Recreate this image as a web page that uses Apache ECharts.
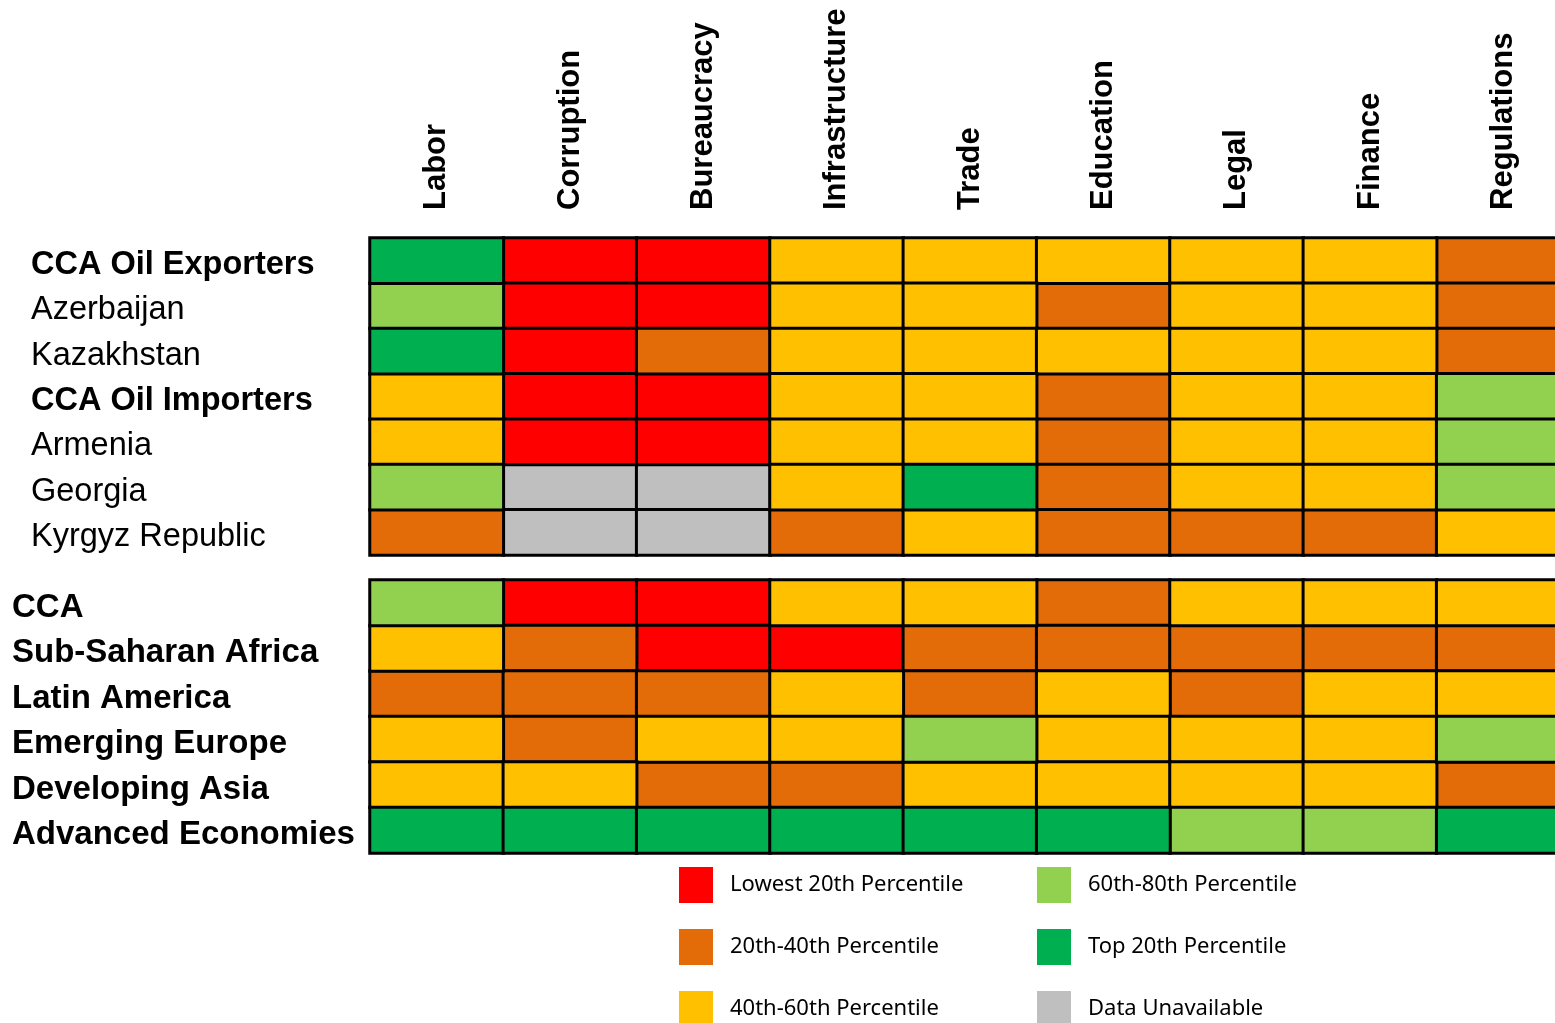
<!DOCTYPE html>
<html>
<head>
<meta charset="utf-8">
<script src="https://cdn.jsdelivr.net/npm/echarts@6/dist/echarts.min.js"></script>
<style>
  html, body { margin: 0; padding: 0; background: #fff; }
  #main { width: 1555px; height: 1023px; }
</style>
</head>
<body>
<div id="main"></div>
<script>
// columns of the table
const columns = ['Labor', 'Corruption', 'Bureaucracy', 'Infrastructure', 'Trade', 'Education', 'Legal', 'Finance', 'Regulations']

// 0 = no data, 1 = lowest 20th ... 5 = top 20th
const levels = ['Data Unavailable', 'Lowest 20th Percentile', '20th-40th Percentile', '40th-60th Percentile', '60th-80th Percentile', 'Top 20th Percentile']
const levelColors = ['#BFBFBF', '#FF0000', '#E36C09', '#FFC000', '#92D050', '#00B050']

// upper block: CCA countries
const rowsTop = ['CCA Oil Exporters', 'Azerbaijan', 'Kazakhstan', 'CCA Oil Importers', 'Armenia', 'Georgia', 'Kyrgyz Republic']
const boldRows = ['CCA Oil Exporters', 'CCA Oil Importers']
const ratingsTop = [
  [5, 1, 1, 3, 3, 3, 3, 3, 2],
  [4, 1, 1, 3, 3, 2, 3, 3, 2],
  [5, 1, 2, 3, 3, 3, 3, 3, 2],
  [3, 1, 1, 3, 3, 2, 3, 3, 4],
  [3, 1, 1, 3, 3, 2, 3, 3, 4],
  [4, 0, 0, 3, 5, 2, 3, 3, 4],
  [2, 0, 0, 2, 3, 2, 2, 2, 3]
]

// lower block: regions
const rowsBottom = ['CCA', 'Sub-Saharan Africa', 'Latin America', 'Emerging Europe', 'Developing Asia', 'Advanced Economies']
const ratingsBottom = [
  [4, 1, 1, 3, 3, 2, 3, 3, 3],
  [3, 2, 1, 1, 2, 2, 2, 2, 2],
  [2, 2, 2, 3, 2, 3, 2, 3, 3],
  [3, 2, 3, 3, 4, 3, 3, 3, 4],
  [3, 3, 2, 2, 3, 3, 3, 3, 2],
  [5, 5, 5, 5, 5, 5, 4, 4, 5]
]

const chart = echarts.init(document.getElementById('main'))

const labelFont = 'Liberation Sans, Arial, sans-serif'
const legendFont = 'Noto Sans, sans-serif'

// split the ratings into one heatmap series per level so the legend works
function buildSeries(ratings, gridIdx) {
  return levels.map((name, k) => {
    const data = []
    ratings.forEach((row, r) => {
      row.forEach((v, c) => {
        if (v === k) data.push([c, r, v])
      })
    })
    return {
      type: 'heatmap',
      name: name,
      xAxisIndex: gridIdx,
      yAxisIndex: gridIdx,
      data: data,
      itemStyle: {
        color: levelColors[k],
        borderColor: '#000',
        borderWidth: 3
      },
      emphasis: { disabled: true },
      animation: false
    }
  })
}

function legendBlock(left, names) {
  return {
    orient: 'vertical', left: left, top: 867, height: 200, padding: 0,
    itemWidth: 34, itemHeight: 36, itemGap: 26, icon: 'rect',
    itemStyle: { borderWidth: 0 },
    selectedMode: false,
    data: names,
    textStyle: { fontFamily: legendFont, fontSize: 22, color: '#000', padding: [4, 0, 0, 12] }
  }
}

const option = {
  backgroundColor: '#fff',
  animation: false,
  grid: [
    { left: 370, top: 238, width: 1200, height: 317, outerBoundsMode: 'none' },
    { left: 370, top: 580, width: 1200, height: 273, outerBoundsMode: 'none' }
  ],
  xAxis: [
    {
      type: 'category', gridIndex: 0, position: 'top', data: columns,
      axisLine: { show: false }, axisTick: { show: false }, splitLine: { show: false },
      axisLabel: {
        rotate: -90, margin: 28, interval: 0,
        fontFamily: labelFont, fontSize: 31, fontWeight: 'bold', color: '#000'
      }
    },
    {
      type: 'category', gridIndex: 1, data: columns,
      axisLine: { show: false }, axisTick: { show: false }, splitLine: { show: false },
      axisLabel: { show: false }
    }
  ],
  yAxis: [
    {
      type: 'category', gridIndex: 0, inverse: true,
      data: rowsTop,
      axisLine: { show: false }, axisTick: { show: false }, splitLine: { show: false },
      axisLabel: {
        align: 'left', margin: 339, interval: 0, padding: [9, 0, 0, 0],
        fontFamily: labelFont, fontSize: 32.5, color: '#000',
        formatter: v => boldRows.includes(v) ? '{b|' + v + '}' : v,
        rich: { b: { fontFamily: labelFont, fontSize: 32.5, fontWeight: 'bold', color: '#000' } }
      }
    },
    {
      type: 'category', gridIndex: 1, inverse: true,
      data: rowsBottom,
      axisLine: { show: false }, axisTick: { show: false }, splitLine: { show: false },
      axisLabel: {
        align: 'left', margin: 358, interval: 0, padding: [10, 0, 0, 0],
        fontFamily: labelFont, fontSize: 33, fontWeight: 'bold', color: '#000',
        formatter: v => '{b|' + v + '}',
        rich: { b: { fontFamily: labelFont, fontSize: 33, fontWeight: 'bold', color: '#000' } }
      }
    }
  ],
  legend: [
    legendBlock(679, [levels[1], levels[2], levels[3]]),
    legendBlock(1037, [levels[4], levels[5], levels[0]])
  ],
  series: buildSeries(ratingsTop, 0).concat(buildSeries(ratingsBottom, 1))
}

chart.setOption(option)
</script>
</body>
</html>
